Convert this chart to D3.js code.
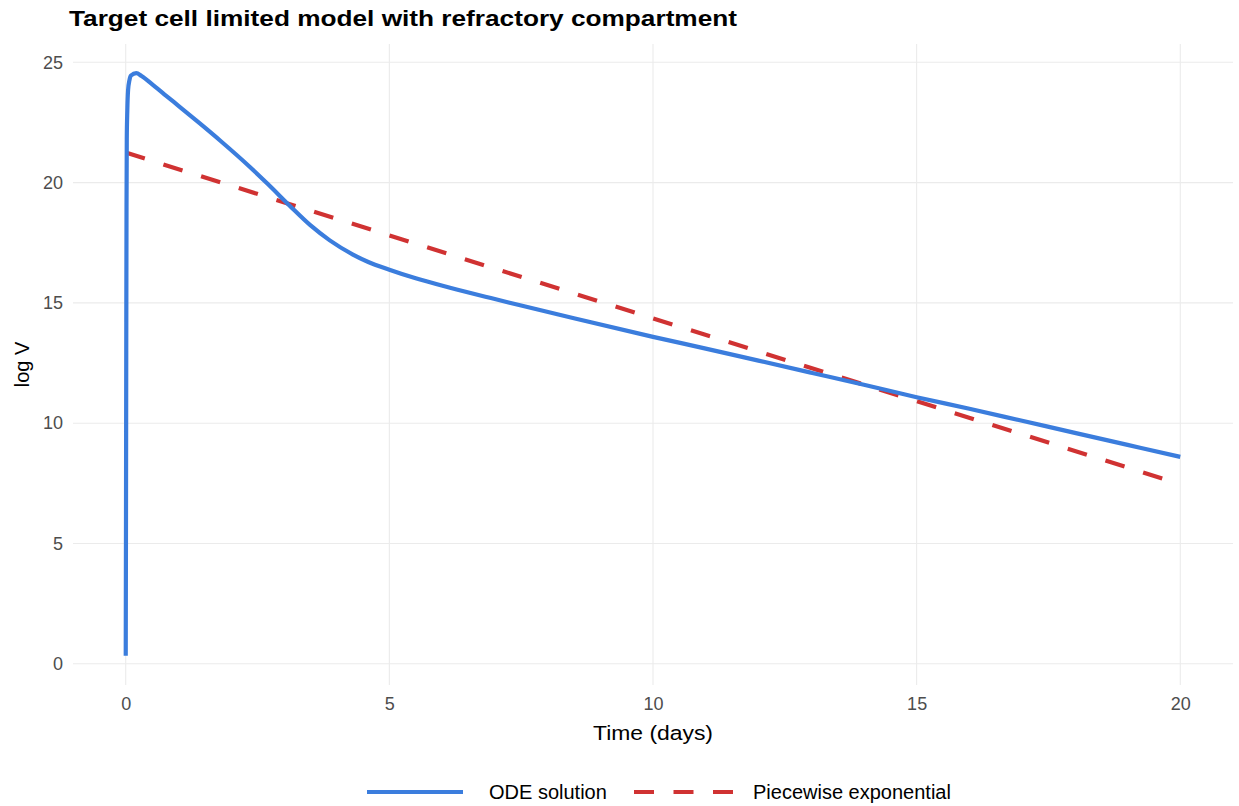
<!DOCTYPE html>
<html>
<head>
<meta charset="utf-8">
<script src="https://cdn.jsdelivr.net/npm/d3@7"></script>
<style>
  body { margin: 0; background: #fff; }
  svg { font-family: "Liberation Sans", Arial, sans-serif; }
</style>
</head>
<body>
<svg id="chart" width="1239" height="806"></svg>
<script>
// --- Data ---
const odeTime = [0, 0.005, 0.01, 0.015, 0.02, 0.03, 0.045, 0.07, 0.1, 0.2, 0.3, 0.52, 0.75, 1.0,
  1.4, 1.8, 2.35, 2.7, 3.11, 3.5, 3.87, 4.3, 4.6, 5.0, 5.5, 6.15, 7.0, 7.48, 8.5, 10,
  11, 12, 13, 14, 15, 16, 17, 18, 19, 20];
const odeLogV = [0.33, 6, 13, 19, 21.8, 23.0, 23.85, 24.25, 24.45, 24.55, 24.43, 24.05, 23.64, 23.19,
  22.47, 21.73, 20.66, 19.93, 19.04, 18.23, 17.6, 17.02, 16.7, 16.38, 16.02, 15.63, 15.16, 14.9, 14.36, 13.59,
  13.1, 12.6, 12.1, 11.6, 11.08, 10.6, 10.1, 9.6, 9.1, 8.6];

const pwTime = [0, 20];
const pwLogV = [21.25, 7.47];

const xTicks = [0, 5, 10, 15, 20];
const yTicks = [0, 5, 10, 15, 20, 25];

const seriesNames = ["ODE solution", "Piecewise exponential"];
const seriesColors = ["#3b7ddd", "#d03232"];

const svg = d3.select("#chart");

// --- Scales (ggplot-style 5% expansion) ---
const allT = odeTime.concat(pwTime);
const allV = odeLogV.concat(pwLogV);
const [tMin, tMax] = d3.extent(allT);
const [vMin, vMax] = d3.extent(allV);
const tPad = (tMax - tMin) * 0.05;
const vPad = (vMax - vMin) * 0.05;

const x = d3.scaleLinear().domain([tMin - tPad, tMax + tPad]).range([73, 1233]);
const y = d3.scaleLinear().domain([vMin - vPad, vMax + vPad]).range([685, 44]);

// --- Grid ---
const grid = svg.append("g").attr("class", "grid");
grid.selectAll("line.gx").data(xTicks).join("line")
  .attr("x1", d => x(d)).attr("x2", d => x(d))
  .attr("y1", y.range()[0]).attr("y2", y.range()[1])
  .attr("stroke", "#ebebeb").attr("stroke-width", 1.1);
grid.selectAll("line.gy").data(yTicks).join("line")
  .attr("y1", d => y(d)).attr("y2", d => y(d))
  .attr("x1", x.range()[0]).attr("x2", x.range()[1])
  .attr("stroke", "#ebebeb").attr("stroke-width", 1.1);

// --- Axes (labels only, theme_minimal) ---
const xAxis = svg.append("g")
  .attr("transform", `translate(0,${y.range()[0]})`)
  .call(d3.axisBottom(x).tickValues(xTicks).tickSize(0).tickPadding(12));
const yAxis = svg.append("g")
  .attr("transform", `translate(${x.range()[0]},0)`)
  .call(d3.axisLeft(y).tickValues(yTicks).tickSize(0).tickPadding(10));
[xAxis, yAxis].forEach(a => {
  a.select(".domain").remove();
  a.attr("font-size", null).attr("font-family", null);
  a.selectAll("text")
    .attr("fill", "#4d4d4d")
    .style("font-size", "18px");
});

// --- Lines ---
const line = d3.line().x(d => x(d[0])).y(d => y(d[1])).curve(d3.curveMonotoneX);

svg.append("path")
  .datum(d3.zip(pwTime, pwLogV))
  .attr("d", line)
  .attr("fill", "none")
  .attr("stroke", seriesColors[1])
  .attr("stroke-width", 4.2)
  .attr("stroke-dasharray", "20,19.5");

svg.append("path")
  .datum(d3.zip(odeTime, odeLogV))
  .attr("d", line)
  .attr("fill", "none")
  .attr("stroke", seriesColors[0])
  .attr("stroke-width", 4.2)
  .attr("stroke-linejoin", "round");

// --- Titles ---
svg.append("text")
  .attr("x", 69).attr("y", 26)
  .attr("font-weight", "bold")
  .attr("font-size", "22px")
  .attr("textLength", 668)
  .attr("lengthAdjust", "spacingAndGlyphs")
  .attr("fill", "#000")
  .text("Target cell limited model with refractory compartment");

svg.append("text")
  .attr("x", (x.range()[0] + x.range()[1]) / 2).attr("y", 740)
  .attr("text-anchor", "middle")
  .attr("font-size", "20.5px")
  .attr("textLength", 120)
  .attr("lengthAdjust", "spacingAndGlyphs")
  .attr("fill", "#000")
  .text("Time (days)");

svg.append("text")
  .attr("transform", `translate(29,${(y.range()[0] + y.range()[1]) / 2}) rotate(-90)`)
  .attr("text-anchor", "middle")
  .attr("font-size", "20px")
  .attr("fill", "#000")
  .text("log V");

// --- Legend ---
const legend = svg.append("g").attr("transform", "translate(0,792)");
const legendItems = [
  { name: seriesNames[0], color: seriesColors[0], dash: null, x0: 367, x1: 463, tx: 489 },
  { name: seriesNames[1], color: seriesColors[1], dash: "20,19.5", x0: 634, x1: 736, tx: 753 }
];
legendItems.forEach(it => {
  legend.append("line")
    .attr("x1", it.x0).attr("x2", it.x1)
    .attr("y1", 0).attr("y2", 0)
    .attr("stroke", it.color)
    .attr("stroke-width", 4.2)
    .attr("stroke-dasharray", it.dash);
  legend.append("text")
    .attr("x", it.tx).attr("y", 7)
    .attr("font-size", "20px")
    .attr("fill", "#000")
    .text(it.name);
});
</script>
</body>
</html>
